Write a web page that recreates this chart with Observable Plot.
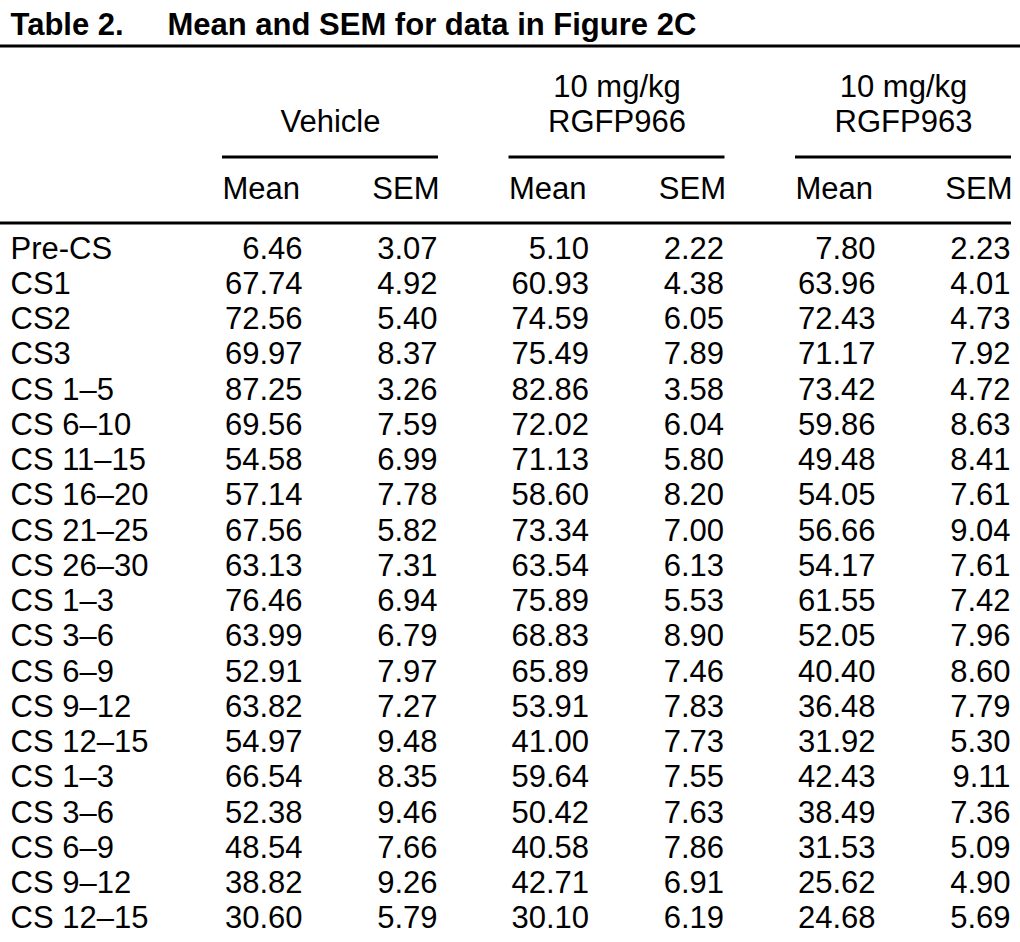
<!DOCTYPE html>
<html>
<head>
<meta charset="utf-8">
<script src="https://cdn.jsdelivr.net/npm/d3@7"></script>
<script src="https://cdn.jsdelivr.net/npm/@observablehq/plot@0.6"></script>
<style>
  html, body { margin: 0; padding: 0; background: #fff; }
  #chart svg { display: block; }
</style>
</head>
<body>
<div id="chart"></div>
<script>
// ---- data ----
const titleBold = "Table 2.";
const titleRest = "Mean and SEM for data in Figure 2C";
const groupLabels = ["Vehicle", "10 mg/kg\nRGFP966", "10 mg/kg\nRGFP963"];
const statLabels = ["Mean", "SEM"];
const rowLabels = ["Pre-CS", "CS1", "CS2", "CS3", "CS 1–5", "CS 6–10", "CS 11–15", "CS 16–20", "CS 21–25", "CS 26–30",
  "CS 1–3", "CS 3–6", "CS 6–9", "CS 9–12", "CS 12–15", "CS 1–3", "CS 3–6", "CS 6–9", "CS 9–12", "CS 12–15"];
const vehicleMean = [6.46, 67.74, 72.56, 69.97, 87.25, 69.56, 54.58, 57.14, 67.56, 63.13, 76.46, 63.99, 52.91, 63.82, 54.97, 66.54, 52.38, 48.54, 38.82, 30.60];
const vehicleSEM = [3.07, 4.92, 5.40, 8.37, 3.26, 7.59, 6.99, 7.78, 5.82, 7.31, 6.94, 6.79, 7.97, 7.27, 9.48, 8.35, 9.46, 7.66, 9.26, 5.79];
const rgfp966Mean = [5.10, 60.93, 74.59, 75.49, 82.86, 72.02, 71.13, 58.60, 73.34, 63.54, 75.89, 68.83, 65.89, 53.91, 41.00, 59.64, 50.42, 40.58, 42.71, 30.10];
const rgfp966SEM = [2.22, 4.38, 6.05, 7.89, 3.58, 6.04, 5.80, 8.20, 7.00, 6.13, 5.53, 8.90, 7.46, 7.83, 7.73, 7.55, 7.63, 7.86, 6.91, 6.19];
const rgfp963Mean = [7.80, 63.96, 72.43, 71.17, 73.42, 59.86, 49.48, 54.05, 56.66, 54.17, 61.55, 52.05, 40.40, 36.48, 31.92, 42.43, 38.49, 31.53, 25.62, 24.68];
const rgfp963SEM = [2.23, 4.01, 4.73, 7.92, 4.72, 8.63, 8.41, 7.61, 9.04, 7.61, 7.42, 7.96, 8.60, 7.79, 5.30, 9.11, 7.36, 5.09, 4.90, 5.69];

// ---- layout ----
const W = 1020, H = 942;
const font = "'Liberation Sans', Arial, sans-serif";
const fs = 31;
const L = {
  labelX: 10,
  titleY: 34, titleRestX: 167, titleRule: 45.5,
  groupBase: 131, groupRule: 156.5,
  statBase: 198, headRule: 222.5, headRuleEnd: 1011,
  rowBase0: 258, rowPitch: 35.26,
  groupLeft: 222, groupStep: 286.5, groupWidth: 216,
  meanRight: 80, semRight: 215
};

const series = [[vehicleMean, vehicleSEM], [rgfp966Mean, rgfp966SEM], [rgfp963Mean, rgfp963SEM]];
const cells = [];
series.forEach((pair, g) => pair.forEach((vals, s) => vals.forEach((v, i) => cells.push({g, s, i, v}))));
const groups = groupLabels.map((label, g) => ({g, label}));
const stats = [];
groupLabels.forEach((_, g) => statLabels.forEach((label, s) => stats.push({g, s, label})));
const rows = rowLabels.map((label, i) => ({i, label}));

const gx = g => L.groupLeft + g * L.groupStep;
const rowY = i => L.rowBase0 + i * L.rowPitch;

const common = {fontFamily: font, fontSize: fs, fill: "#000", lineAnchor: "bottom"};

const plot = Plot.plot({
  width: W, height: H, margin: 0,
  x: {type: "linear", domain: [0, W], range: [0, W], axis: null},
  y: {type: "linear", domain: [0, H], range: [0, H], axis: null},
  style: {background: "#fff"},
  marks: [
    // title
    Plot.text([titleBold], {...common, x: () => L.labelX, y: () => L.titleY, text: d => d, textAnchor: "start", fontWeight: "bold", fontSize: 31}),
    Plot.text([titleRest], {...common, x: () => L.titleRestX, y: () => L.titleY, text: d => d, textAnchor: "start", fontWeight: "bold", fontSize: 31}),
    Plot.ruleY([L.titleRule], {x1: 0, x2: W, stroke: "#000", strokeWidth: 3}),
    // group headers
    Plot.text(groups, {...common, x: d => gx(d.g) + L.groupWidth / 2, y: () => L.groupBase, text: "label", textAnchor: "middle", lineHeight: 1.12}),
    Plot.ruleY(groups, {x1: d => gx(d.g), x2: d => gx(d.g) + L.groupWidth, y: () => L.groupRule, stroke: "#000", strokeWidth: 3}),
    // stat headers
    Plot.text(stats.filter(d => d.s === 0), {...common, x: d => gx(d.g), y: () => L.statBase, text: "label", textAnchor: "start"}),
    Plot.text(stats.filter(d => d.s === 1), {...common, x: d => gx(d.g) + L.semRight + 2, y: () => L.statBase, text: "label", textAnchor: "end"}),
    Plot.ruleY([L.headRule], {x1: 0, x2: L.headRuleEnd, stroke: "#000", strokeWidth: 3}),
    // row labels
    Plot.text(rows, {...common, x: () => L.labelX, y: d => rowY(d.i), text: "label", textAnchor: "start"}),
    // values
    Plot.text(cells, {...common, x: d => gx(d.g) + (d.s === 0 ? L.meanRight : L.semRight), y: d => rowY(d.i), text: d => d.v.toFixed(2), textAnchor: "end"})
  ]
});
document.getElementById("chart").append(plot);
</script>
</body>
</html>
